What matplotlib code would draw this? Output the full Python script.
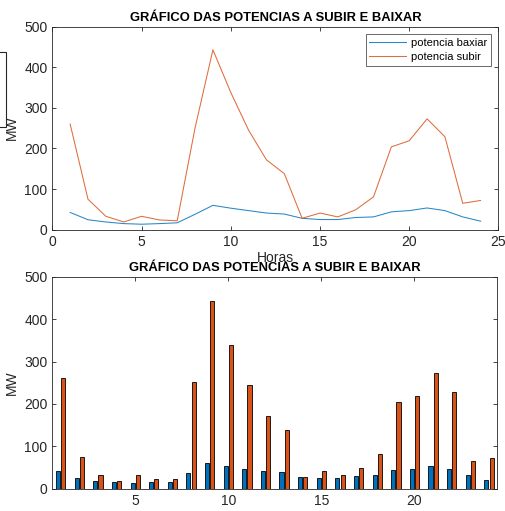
import matplotlib
matplotlib.use("Agg")
import matplotlib.pyplot as plt
from matplotlib.patches import Rectangle
import numpy as np

plt.rcParams['font.family'] = ['Liberation Sans', 'DejaVu Sans']

horas = list(range(1, 25))
potencia_baixar = [42.5, 24.5, 19, 15, 13.5, 15, 17, 38, 60, 53, 47, 41,
                   38.5, 28, 25, 25, 30, 31.5, 44, 47, 53.5, 47, 31.5, 21]
potencia_subir = [260, 75, 33, 19, 33, 24, 22, 251, 443, 338, 245, 172,
                  138, 28, 41, 31.5, 49, 81, 204, 219, 273, 229, 65, 72]
titulo = "GRÁFICO DAS POTENCIAS A SUBIR E BAIXAR"
legend_labels = ["potencia baxiar", "potencia subir"]

blue = "#0072BD"
orange = "#D95319"
txt = "#262626"

fig = plt.figure(figsize=(5.05, 5.11), dpi=100)

def style(ax):
    for s in ax.spines.values():
        s.set_color(txt)
        s.set_linewidth(0.6)
    ax.tick_params(direction='in', top=True, right=True, colors=txt,
                   labelsize=10, length=3, width=0.6)

# top axes
ax1 = fig.add_axes([0.1036, 0.5505, 0.8834, 0.3973])
ax1.plot(horas, potencia_baixar, color=blue, lw=0.75, alpha=0.85, label=legend_labels[0])
ax1.plot(horas, potencia_subir, color=orange, lw=0.75, alpha=0.85, label=legend_labels[1])
ax1.set_xlim(0, 25)
ax1.set_ylim(0, 500)
ax1.set_xticks([0, 5, 10, 15, 20, 25])
ax1.set_yticks([0, 100, 200, 300, 400, 500])
style(ax1)
ax1.set_title(titulo, fontsize=9.4, fontweight='bold', pad=4, color='black')
ax1.set_ylabel("MW", fontsize=10, color=txt, labelpad=4)
ax1.set_xlabel("Horas", fontsize=10, color=txt, labelpad=2)
leg = ax1.legend(loc='upper right', fontsize=8, frameon=True, fancybox=False,
                 edgecolor=txt, borderaxespad=0.7, handlelength=3.3,
                 handletextpad=0.4, borderpad=0.35, labelspacing=0.3)
leg.get_frame().set_linewidth(0.6)

# bottom axes
ax2 = fig.add_axes([0.1036, 0.0436, 0.8812, 0.4149])
x = np.array(horas, dtype=float)
w = 0.22
ax2.bar(x - 0.14, potencia_baixar, width=w, color=blue, edgecolor='black', linewidth=0.6)
ax2.bar(x + 0.14, potencia_subir, width=w, color=orange, edgecolor='black', linewidth=0.6)
ax2.set_xlim(0.55, 24.45)
ax2.set_ylim(0, 500)
ax2.set_xticks([5, 10, 15, 20])
ax2.set_yticks([0, 100, 200, 300, 400, 500])
style(ax2)
ax2.set_title(titulo, fontsize=9.4, fontweight='bold', pad=4, color='black')
ax2.set_ylabel("MW", fontsize=10, color=txt, labelpad=4)

# stray legend box at left edge
fig.patches.append(Rectangle((-0.02, 1 - 126.7 / 511), 0.032, 75 / 511,
                             transform=fig.transFigure, fill=False,
                             edgecolor=txt, linewidth=0.8))

fig.savefig("out.png", dpi=100)
